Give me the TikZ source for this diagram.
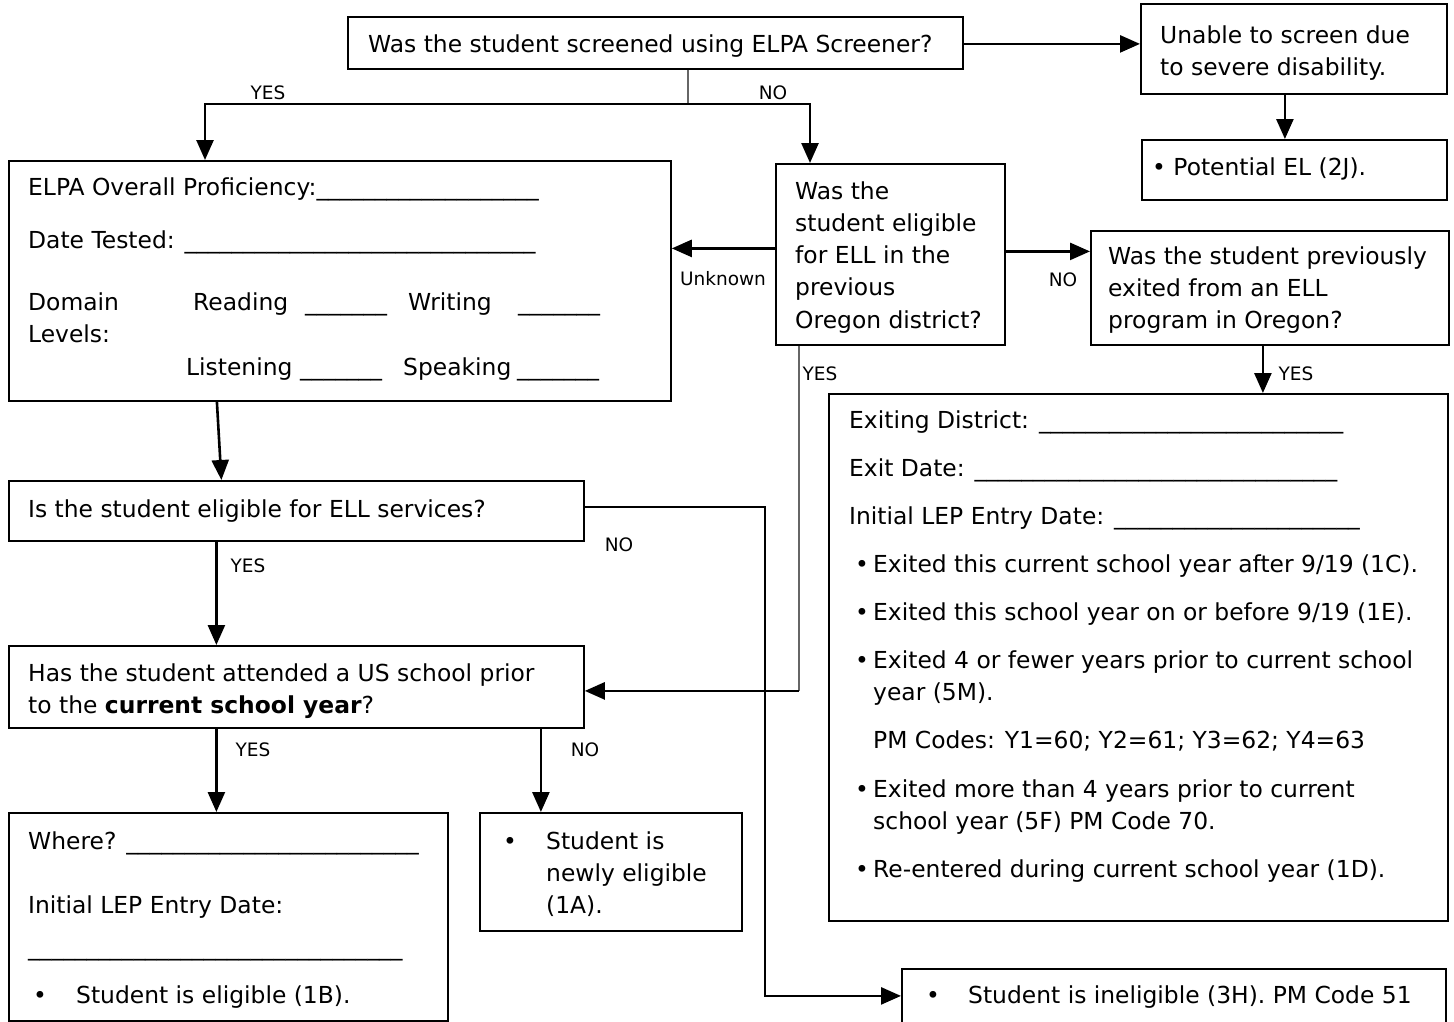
\documentclass[tikz,border=0pt]{standalone}
\usepackage{fontspec}
\setmainfont{DejaVu Sans}
\usetikzlibrary{arrows.meta}
\newcommand{\blanks}[1]{\foreach \i in {1,...,#1}{\_}}
\begin{document}
\begin{tikzpicture}[x=1pt,y=-1pt,
  box/.style={draw, line width=1.8pt, inner sep=0pt, anchor=north west},
  txt/.style={anchor=base west, inner sep=0pt, font=\fontsize{23.4}{32.3}\selectfont},
  lbl/.style={anchor=center, inner sep=0pt, font=\fontsize{18.5}{22}\selectfont},
  arr/.style={line width=2.6pt, -{Triangle[length=20pt,width=17pt]}},
  thinline/.style={line width=1.4pt, draw=black!60}]
\clip (0,0) rectangle (1454,1021);

% ---- boxes ----
\node[box, minimum width=615, minimum height=52]  (screen)  at (347,16)  {};
\node[box, minimum width=306, minimum height=90]  (unable)  at (1140,3)  {};
\node[box, minimum width=305, minimum height=60]  (potel)   at (1141,139) {};
\node[box, minimum width=662, minimum height=240] (elpa)    at (8,160)   {};
\node[box, minimum width=229, minimum height=181] (elig)    at (775,163) {};
\node[box, minimum width=358, minimum height=114] (prevex)  at (1090,230) {};
\node[box, minimum width=619, minimum height=527] (exiting) at (828,393) {};
\node[box, minimum width=575, minimum height=60]  (iselig)  at (8,480)   {};
\node[box, minimum width=575, minimum height=82]  (hasatt)  at (8,645)   {};
\node[box, minimum width=439, minimum height=208] (where)   at (8,812)   {};
\node[box, minimum width=262, minimum height=118] (newly)   at (479,812) {};
\node[box, minimum width=544, minimum height=80]  (inelig)  at (901,968) {};

% ---- box texts ----
\node[txt] (tscreen) at (368,52) {Was the student screened using ELPA Screener?};
\node[txt] (tunable) at (1160,43) {\parbox[t]{290pt}{Unable to screen due\\to severe disability.}};
\node[txt] (tpotel) at (1152,175) {• Potential EL (2J).};

\node[txt] (te1) at (28,195) {ELPA Overall Proficiency:\blanks{19}};
\node[txt] (te2) at (28,248) {Date Tested: \blanks{30}};
\node[txt] (te3) at (28,310) {Domain};
\node[txt] (te4) at (28,342) {Levels:};
\node[txt] (te5) at (193,310) {Reading};
\node[txt] (te6) at (305,310) {\blanks{7}};
\node[txt] (te7) at (408,310) {Writing};
\node[txt] (te8) at (518,310) {\blanks{7}};
\node[txt] (te9) at (186,375) {Listening};
\node[txt] (te10) at (300,375) {\blanks{7}};
\node[txt] (te11) at (403,375) {Speaking};
\node[txt] (te12) at (517,375) {\blanks{7}};

\node[txt] (telig) at (795,199) {\parbox[t]{210pt}{Was the\\student eligible\\for ELL in the\\previous\\Oregon district?}};
\node[txt] (tprevex) at (1108,264) {\parbox[t]{340pt}{Was the student previously\\exited from an ELL\\program in Oregon?}};

\node[txt] (tx1) at (849,428) {Exiting District: \blanks{26}};
\node[txt] (tx2) at (849,476) {Exit Date: \blanks{31}};
\node[txt] (tx3) at (849,524) {Initial LEP Entry Date: \blanks{21}};
\node[txt] (bx1) at (855,572) {•};
\node[txt] (tx4) at (873,572) {Exited this current school year after 9/19 (1C).};
\node[txt] (bx2) at (855,620) {•};
\node[txt] (tx5) at (873,620) {Exited this school year on or before 9/19 (1E).};
\node[txt] (bx3) at (855,668) {•};
\node[txt] (tx6) at (873,668) {\parbox[t]{560pt}{Exited 4 or fewer years prior to current school\\year (5M).}};
\node[txt] (tx7) at (873,748) {PM Codes: Y1=60; Y2=61; Y3=62; Y4=63};
\node[txt] (bx4) at (855,797) {•};
\node[txt] (tx8) at (873,797) {\parbox[t]{560pt}{Exited more than 4 years prior to current\\school year (5F) PM Code 70.}};
\node[txt] (bx5) at (855,877) {•};
\node[txt] (tx9) at (873,877) {Re-entered during current school year (1D).};

\node[txt] (tiselig) at (28,517) {Is the student eligible for ELL services?};
\node[txt] (thas) at (28,681) {\parbox[t]{560pt}{Has the student attended a US school prior\\to the \textbf{current school year}?}};

\node[txt] (tw1) at (28,849) {Where? \blanks{25}};
\node[txt] (tw2) at (28,913) {Initial LEP Entry Date:};
\node[txt] (tw3) at (28,955) {\blanks{32}};
\node[txt] (bw) at (33,1003) {•};
\node[txt] (tw4) at (76,1003) {Student is eligible (1B).};

\node[txt] (bn) at (503,849) {•};
\node[txt] (tn) at (546,849) {\parbox[t]{190pt}{Student is\\newly eligible\\(1A).}};

\node[txt] (bi) at (926,1003) {•};
\node[txt] (ti) at (968,1003) {Student is ineligible (3H). PM Code 51};

% ---- branch labels ----
\node[lbl] (l1) at (268,93) {YES};
\node[lbl] (l2) at (773,93) {NO};
\node[lbl] (l3) at (723,279) {Unknown};
\node[lbl] (l4) at (1063,280) {NO};
\node[lbl] (l5) at (1296,374) {YES};
\node[lbl] (l6) at (820,374) {YES};
\node[lbl] (l7) at (248,566) {YES};
\node[lbl] (l8) at (619,545) {NO};
\node[lbl] (l9) at (253,750) {YES};
\node[lbl] (l10) at (585,750) {NO};

% ---- connectors ----
\coordinate (split) at (688,104);
\coordinate (yesdrop) at (205,104);
\coordinate (nodrop) at (810,104);
\draw[thinline] (screen.south -| split) -- (split);
\draw[arr] (split) -- (yesdrop) -- (yesdrop |- elpa.north);
\draw[arr] (split) -- (nodrop) -- (nodrop |- elig.north);
\draw[arr] ([yshift=-1pt]screen.east) -- ([yshift=-1pt]screen.east -| unable.west);
\draw[arr] ([xshift=-9pt]unable.south) -- ([xshift=-9pt]unable.south |- potel.north);

\draw[arr] ([yshift=6pt]elig.west) -- ([yshift=6pt]elig.west -| elpa.east);
\draw[arr] ([yshift=3pt]elig.east) -- ([yshift=3pt]elig.east -| prevex.west);
\draw[arr] ([xshift=-7pt]prevex.south) -- ([xshift=-7pt]prevex.south |- exiting.north);

\coordinate (ydrop) at ([xshift=-91.5pt]elig.south);
\coordinate (hasin) at ([yshift=-4pt]hasatt.east);
\draw[thinline] (ydrop) -- (ydrop |- hasin);
\draw[arr] (ydrop |- hasin) -- (hasin);

\draw[arr] ([xshift=-123pt]elpa.south) -- ([xshift=-75pt]iselig.north);

\coordinate (nocol) at (765,0);
\coordinate (inelin) at ([yshift=13pt]inelig.west);
\draw[arr] ([yshift=4pt]iselig.east) -- ([yshift=4pt]iselig.east -| nocol) -- (nocol |- inelin) -- (inelin);

\draw[arr] ([xshift=-80pt]iselig.south) -- ([xshift=-80pt]iselig.south |- hasatt.north);
\draw[arr] ([xshift=-80pt]hasatt.south) -- ([xshift=-80pt]hasatt.south |- where.north);
\draw[arr] ([xshift=244.5pt]hasatt.south) -- ([xshift=244.5pt]hasatt.south |- newly.north);
\end{tikzpicture}
\end{document}
